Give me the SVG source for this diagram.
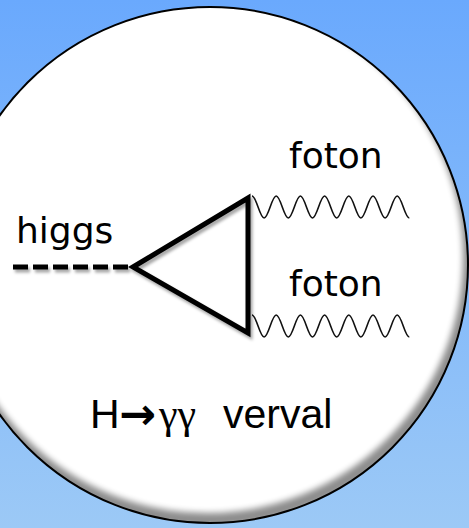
<svg xmlns="http://www.w3.org/2000/svg" width="469" height="528" viewBox="0 0 469 528">
  <defs>
    <linearGradient id="bg" x1="0" y1="0" x2="0" y2="1">
      <stop offset="0" stop-color="#6aa9fd"/>
      <stop offset="1" stop-color="#9cc9f6"/>
    </linearGradient>
    <clipPath id="cc"><circle cx="210" cy="265" r="258"/></clipPath>
    <filter id="blur" x="-10%" y="-10%" width="120%" height="120%">
      <feGaussianBlur stdDeviation="3"/>
    </filter>
    <filter id="ds" filterUnits="userSpaceOnUse" x="0" y="150" width="300" height="220">
      <feDropShadow dx="2" dy="3" stdDeviation="1.6" flood-color="#000" flood-opacity="0.35"/>
    </filter>
    <path id="wave" d="M0,0 C4.4,0 7.7,22 12.1,22 S19.8,0 24.2,0 S31.9,22 36.3,22 S44,0 48.4,0 S56.1,22 60.5,22 S68.2,0 72.6,0 S80.3,22 84.7,22 S92.4,0 96.8,0 S104.5,22 108.9,22 S116.6,0 121,0 S128.7,22 133.1,22 S140.8,0 145.2,0 S152.9,22 157.3,22"/>
    <style>
      .lbl { font-family: "DejaVu Sans", Verdana, sans-serif; font-size: 36px; fill: #000; }
      .cap { font-family: "Liberation Sans", Arial, sans-serif; font-size: 41px; fill: #000; }
      .wave { fill: none; stroke: #111; stroke-width: 1.6; }
    </style>
  </defs>

  <rect x="0" y="0" width="469" height="528" fill="url(#bg)"/>

  <g id="disc">
    <circle cx="210" cy="265" r="258" fill="#fff"/>
    <g clip-path="url(#cc)">
      <circle cx="207" cy="257" r="263" fill="none" stroke="#000" stroke-width="14" opacity="0.45" filter="url(#blur)"/>
    </g>
    <circle cx="210" cy="265" r="258" fill="none" stroke="#000" stroke-width="2"/>
  </g>

  <g id="connectors">
    <line id="higgs-line" x1="13" y1="267" x2="133" y2="267" stroke="#000" stroke-width="5" stroke-dasharray="15 5" filter="url(#ds)"/>
    <use href="#wave" class="wave" transform="translate(252,196)"/>
    <use href="#wave" class="wave" transform="translate(252,315)"/>
  </g>

  <g id="loop">
    <polygon points="133,267 248,198 248,333" fill="none" stroke="#000" stroke-width="5" stroke-linejoin="miter" filter="url(#ds)"/>
  </g>

  <g id="label-higgs"><text class="lbl" x="16" y="243">higgs</text></g>
  <g id="label-foton1"><text class="lbl" x="289" y="168">foton</text></g>
  <g id="label-foton2"><text class="lbl" x="289" y="296">foton</text></g>

  <g id="title">
    <text class="cap" y="428"><tspan x="90">H</tspan><tspan x="119" y="429" font-family="DejaVu Sans, sans-serif" font-weight="bold" font-size="44">→</tspan><tspan x="159" y="428" font-family="Liberation Serif, serif" font-size="42">γγ</tspan> <tspan x="223">verval</tspan></text>
  </g>
</svg>
